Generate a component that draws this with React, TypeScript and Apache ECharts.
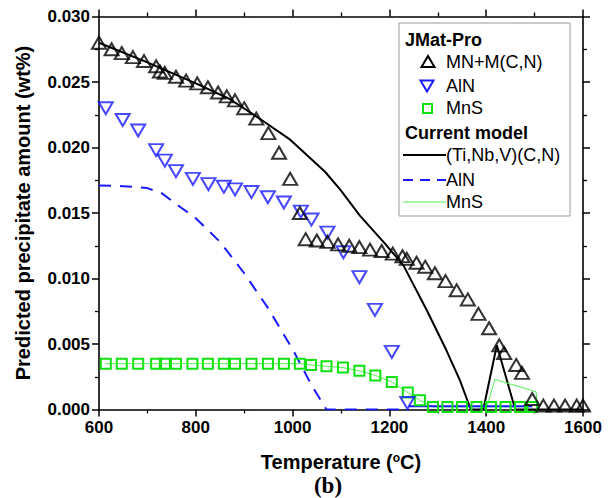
import React, { useEffect, useRef } from "react";
import * as echarts from "echarts";

// JMat-Pro: MN+M(C,N)
const mnT = [600, 626, 647, 670, 693, 718, 726, 736, 759, 780, 803, 825, 846, 864, 881, 900, 925, 950, 972, 995, 1015, 1027, 1050, 1072, 1094, 1117, 1138, 1160, 1184, 1207, 1227, 1236, 1256, 1274, 1294, 1316, 1339, 1362, 1384, 1406, 1427, 1437, 1462, 1474, 1495, 1518, 1540, 1563, 1587, 1600];
const mnV = [0.028, 0.0275, 0.0272, 0.0269, 0.0266, 0.0262, 0.0258, 0.0257, 0.0254, 0.0251, 0.0249, 0.0246, 0.0242, 0.0239, 0.0236, 0.023, 0.0222, 0.0211, 0.0196, 0.0176, 0.015, 0.013, 0.0129, 0.0128, 0.0126, 0.0125, 0.0124, 0.0122, 0.0121, 0.0119, 0.0117, 0.0115, 0.0112, 0.0109, 0.0104, 0.0098, 0.0091, 0.0084, 0.0073, 0.0062, 0.0049, 0.0043, 0.0034, 0.0028, 0.0008, 0.0003, 0.0003, 0.0003, 0.0003, 0.0003];

// JMat-Pro: AlN
const alnT = [614, 649, 681, 718, 736, 759, 794, 826, 858, 881, 915, 949, 982, 1017, 1039, 1072, 1105, 1138, 1170, 1205, 1237];
const alnV = [0.023, 0.0221, 0.0213, 0.0198, 0.019, 0.0182, 0.0176, 0.0172, 0.017, 0.0168, 0.0166, 0.0162, 0.0158, 0.0151, 0.0145, 0.0135, 0.012, 0.0101, 0.0076, 0.0044, 0.0005];
const alnZeroT = [1240, 1495];
const alnZeroV = [0.00025, 0.00025];

// JMat-Pro: MnS
const mnsT = [614, 647, 681, 718, 736, 759, 793, 825, 858, 881, 915, 949, 982, 1015, 1038, 1070, 1104, 1138, 1171, 1205, 1238, 1263, 1290, 1320, 1350, 1380, 1410, 1440, 1470, 1495];
const mnsV = [0.0035, 0.0035, 0.0035, 0.0035, 0.0035, 0.0035, 0.0035, 0.0035, 0.0035, 0.0035, 0.0035, 0.0035, 0.0035, 0.0035, 0.0034, 0.0033, 0.0032, 0.00295, 0.0026, 0.0021, 0.0013, 0.0007, 0.0002, 0.0002, 0.0002, 0.0002, 0.0002, 0.0002, 0.0002, 0.0002];

// Current model: (Ti,Nb,V)(C,N)
const tiT = [600, 700, 800, 870, 936, 995, 1067, 1098, 1139, 1190, 1229, 1277, 1318, 1346, 1368, 1394, 1422, 1460, 1600];
const tiV = [0.028, 0.0265, 0.0249, 0.0237, 0.0221, 0.0206, 0.01815, 0.0168, 0.0148, 0.0127, 0.011, 0.0076, 0.0045, 0.0022, 0, 0, 0.0049, 0, 0];

// Current model: AlN
const alnModelT = [600, 650, 700, 730, 770, 800, 850, 900, 950, 1000, 1040, 1070, 1240];
const alnModelV = [0.0171, 0.01705, 0.0169, 0.0165, 0.0154, 0.0146, 0.0128, 0.0104, 0.0077, 0.0046, 0.0018, 0, 0];

// Current model: MnS
const mnsModelT = [1400, 1418, 1503, 1506];
const mnsModelV = [0, 0.0023, 0.00135, 0];

const xTickValues = [600, 800, 1000, 1200, 1400, 1600];
const yTickLabels = ["0.000", "0.005", "0.010", "0.015", "0.020", "0.025", "0.030"];

const BLUE = "#1a1aff";
const GREEN = "#11e011";
const LIGHTGREEN = "#55ee55";
const FONT = "Liberation Sans, Arial, sans-serif";

const zip = (a: number[], b: number[]) => a.map((v, i) => [v, b[i]]);

export default function App() {
  const ref = useRef<HTMLDivElement>(null);
  useEffect(() => {
    if (!ref.current) return;
    const chart = echarts.init(ref.current, undefined, { renderer: "svg" });
    const axisCommon = {
      axisLine: { show: true, onZero: false, lineStyle: { color: "#000", width: 1.6 } },
      axisTick: { show: true, inside: false, length: 7, lineStyle: { color: "#000", width: 1.5 } },
      minorTick: { show: true, splitNumber: 2, length: 4, lineStyle: { color: "#000", width: 1.3 } },
      splitLine: { show: false },
      minorSplitLine: { show: false },
    };
    const labelStyle = { color: "#000", fontSize: 17, fontWeight: "bold", fontFamily: FONT };
    const legendText = (text: string, x: number, y: number, bold = false) => ({
      type: "text",
      x,
      y,
      z: 11,
      style: {
        text,
        fill: "#000",
        font: `${bold ? "bold " : ""}18px ${FONT}`,
        verticalAlign: "middle",
        align: "left",
      },
    });
    chart.setOption({
      animation: false,
      backgroundColor: "#fff",
      grid: { left: 99, right: 31, top: 16.5, bottom: 88.5, containLabel: false },
      xAxis: [
        {
          type: "value",
          min: xTickValues[0],
          max: xTickValues[xTickValues.length - 1],
          interval: 200,
          position: "bottom",
          ...axisCommon,
          axisLabel: { ...labelStyle, margin: 9, formatter: (v: number) => String(v) },
          name: "Temperature ({sup|o}C)",
          nameLocation: "middle",
          nameGap: 42,
          nameTextStyle: {
            color: "#000",
            fontSize: 20,
            fontWeight: "bold",
            fontFamily: FONT,
            rich: {
              sup: { fontSize: 12, fontWeight: "bold", fontFamily: FONT, verticalAlign: "top", padding: [0, 0, 8, 0] },
            },
          },
        },
        {
          type: "value",
          min: xTickValues[0],
          max: xTickValues[xTickValues.length - 1],
          interval: 200,
          position: "top",
          ...axisCommon,
          axisLabel: { show: false },
        },
      ],
      yAxis: [
        {
          type: "value",
          min: 0,
          max: 0.03,
          interval: 0.005,
          position: "left",
          ...axisCommon,
          axisLabel: {
            ...labelStyle,
            margin: 9,
            formatter: (v: number) => yTickLabels[Math.round(v / 0.005)] ?? v.toFixed(3),
          },
          name: "Predicted precipitate amount (wt%)",
          nameLocation: "middle",
          nameGap: 66,
          nameTextStyle: { color: "#000", fontSize: 20, fontWeight: "bold", fontFamily: FONT },
        },
        {
          type: "value",
          min: 0,
          max: 0.03,
          interval: 0.005,
          position: "right",
          ...axisCommon,
          axisLabel: { show: false },
        },
      ],
      series: [
        {
          name: "(Ti,Nb,V)(C,N)",
          type: "line",
          data: zip(tiT, tiV),
          symbol: "none",
          lineStyle: { color: "#000", width: 2 },
          z: 2,
        },
        {
          name: "AlN model",
          type: "line",
          data: zip(alnModelT, alnModelV),
          symbol: "none",
          lineStyle: { color: BLUE, width: 2, type: [12, 9] },
          z: 2,
        },
        {
          name: "MnS model",
          type: "line",
          data: zip(mnsModelT, mnsModelV),
          symbol: "none",
          lineStyle: { color: LIGHTGREEN, width: 1 },
          z: 2,
        },
        {
          name: "MnS",
          type: "line",
          data: zip(mnsT, mnsV),
          symbol: "rect",
          symbolSize: 10,
          lineStyle: { color: LIGHTGREEN, width: 1 },
          itemStyle: { color: "rgba(255,255,255,0)", borderColor: GREEN, borderWidth: 2 },
          z: 3,
        },
        {
          name: "AlN zero",
          type: "line",
          data: zip(alnZeroT, alnZeroV),
          symbol: "none",
          lineStyle: { color: BLUE, width: 2 },
          z: 3,
        },
        {
          name: "AlN",
          type: "scatter",
          data: zip(alnT, alnV),
          symbol: "triangle",
          symbolRotate: 180,
          symbolSize: [14, 12],
          itemStyle: { color: "rgba(255,255,255,0)", borderColor: BLUE, borderWidth: 2 },
          z: 4,
        },
        {
          name: "MN+M(C,N)",
          type: "scatter",
          data: zip(mnT, mnV),
          symbol: "triangle",
          symbolSize: [14, 12],
          itemStyle: { color: "rgba(255,255,255,0)", borderColor: "#000", borderWidth: 2 },
          clip: false,
          z: 5,
        },
      ],
      graphic: [
        {
          type: "rect",
          z: 10,
          shape: { x: 399, y: 23, width: 171, height: 193 },
          style: { fill: "#fff", stroke: "#999", lineWidth: 1 },
        },
        legendText("JMat-Pro", 405, 40, true),
        {
          type: "polygon",
          z: 11,
          shape: { points: [[428, 56], [434.5, 67], [421.5, 67]] },
          style: { fill: "none", stroke: "#000", lineWidth: 2 },
        },
        legendText("MN+M(C,N)", 446, 62),
        {
          type: "polygon",
          z: 11,
          shape: { points: [[420.5, 80.5], [433.5, 80.5], [427, 91.5]] },
          style: { fill: "none", stroke: BLUE, lineWidth: 2 },
        },
        legendText("AlN", 446, 86),
        {
          type: "rect",
          z: 11,
          shape: { x: 423, y: 104, width: 9, height: 9 },
          style: { fill: "none", stroke: GREEN, lineWidth: 2 },
        },
        legendText("MnS", 446, 108),
        legendText("Current model", 405, 133, true),
        {
          type: "line",
          z: 11,
          shape: { x1: 403, y1: 155, x2: 446, y2: 155 },
          style: { stroke: "#000", lineWidth: 2 },
        },
        legendText("(Ti,Nb,V)(C,N)", 446, 155),
        {
          type: "line",
          z: 11,
          shape: { x1: 403, y1: 180, x2: 446, y2: 180 },
          style: { stroke: BLUE, lineWidth: 2, lineDash: [10, 7] },
        },
        legendText("AlN", 446, 180),
        {
          type: "line",
          z: 11,
          shape: { x1: 403, y1: 202, x2: 446, y2: 202 },
          style: { stroke: LIGHTGREEN, lineWidth: 1 },
        },
        legendText("MnS", 446, 202),
        {
          type: "text",
          z: 11,
          x: 328,
          y: 497,
          style: {
            text: "(b)",
            fill: "#000",
            font: "bold 23px 'Liberation Serif', 'Times New Roman', serif",
            align: "center",
            verticalAlign: "bottom",
          },
        },
      ],
    });
    return () => chart.dispose();
  }, []);
  return <div ref={ref} style={{ width: 614, height: 498, position: "absolute", left: 0, top: 0 }} />;
}
